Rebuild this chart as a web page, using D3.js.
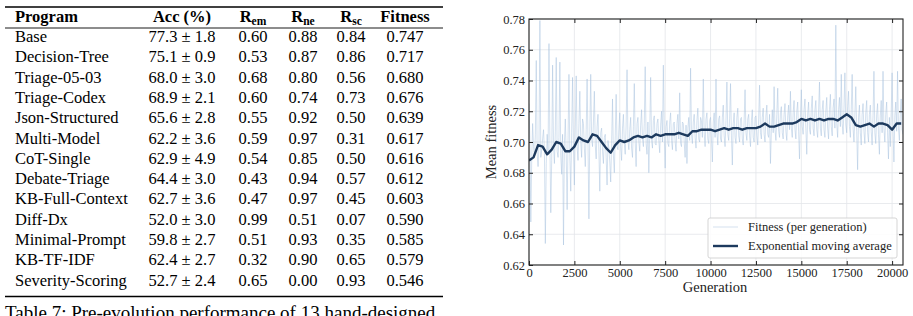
<!DOCTYPE html>
<html>
<head>
<meta charset="utf-8">
<script src="https://cdn.jsdelivr.net/npm/d3@7/dist/d3.min.js"></script>
<style>
  html, body { margin: 0; padding: 0; background: #fff; }
  svg { display: block; }
  text { font-family: "Liberation Serif", "Times New Roman", Times, serif; }
</style>
</head>
<body>
<svg id="fig" width="913" height="316" font-family="'Liberation Serif','Times New Roman',serif"></svg>
<script>
// ---------------- Table data ----------------
const programs = ["Base","Decision-Tree","Triage-05-03","Triage-Codex","Json-Structured","Multi-Model","CoT-Single","Debate-Triage","KB-Full-Context","Diff-Dx","Minimal-Prompt","KB-TF-IDF","Severity-Scoring"];
const accMean = [77.3, 75.1, 68.0, 68.9, 65.6, 62.2, 62.9, 64.4, 62.7, 52.0, 59.8, 62.4, 52.7];
const accStd  = [1.8, 0.9, 3.0, 2.1, 2.8, 3.6, 4.9, 3.0, 3.6, 3.0, 2.7, 2.7, 2.4];
const rEm = [0.60, 0.53, 0.68, 0.60, 0.55, 0.59, 0.54, 0.43, 0.47, 0.99, 0.51, 0.32, 0.65];
const rNe = [0.88, 0.87, 0.80, 0.74, 0.92, 0.97, 0.85, 0.94, 0.97, 0.51, 0.93, 0.90, 0.00];
const rSc = [0.84, 0.86, 0.56, 0.73, 0.50, 0.31, 0.50, 0.57, 0.45, 0.07, 0.35, 0.65, 0.93];
const fitnessScore = [0.747, 0.717, 0.680, 0.676, 0.639, 0.617, 0.616, 0.612, 0.603, 0.590, 0.585, 0.579, 0.546];
const caption = "Table 7: Pre-evolution performance of 13 hand-designed";

// ---------------- Chart data ----------------
const genStep = 50; // generation spacing of the per-generation samples below
const fitnessRaw = [
 0.725,0.701,0.648,0.689,0.712,0.697,0.690,0.705,0.753,0.693,0.684,0.699,0.779,0.690,0.695,0.702,0.708,0.694,0.634,0.686,
 0.705,0.693,0.764,0.700,0.654,0.688,0.750,0.698,0.686,0.707,0.755,0.694,0.690,0.703,0.752,0.691,0.679,0.705,0.633,0.699,
 0.715,0.692,0.656,0.701,0.744,0.690,0.668,0.706,0.742,0.695,0.672,0.709,0.743,0.697,0.688,0.712,0.733,0.700,0.690,0.715,
 0.712,0.696,0.684,0.708,0.741,0.699,0.650,0.707,0.744,0.702,0.697,0.713,0.733,0.698,0.689,0.710,0.718,0.694,0.668,0.706,
 0.709,0.694,0.686,0.703,0.705,0.690,0.672,0.701,0.696,0.687,0.674,0.699,0.728,0.691,0.680,0.704,0.731,0.697,0.695,0.708,
 0.719,0.697,0.688,0.709,0.718,0.699,0.692,0.711,0.747,0.701,0.695,0.708,0.716,0.696,0.690,0.710,0.738,0.700,0.684,0.712,
 0.716,0.700,0.694,0.711,0.721,0.702,0.697,0.712,0.749,0.699,0.692,0.713,0.680,0.706,0.742,0.701,0.696,0.714,0.717,0.699,
 0.698,0.712,0.715,0.701,0.693,0.711,0.720,0.700,0.750,0.704,0.683,0.710,0.714,0.699,0.697,0.713,0.719,0.701,0.695,0.712,
 0.713,0.700,0.694,0.712,0.718,0.702,0.732,0.699,0.697,0.713,0.712,0.700,0.690,0.711,0.686,0.709,0.716,0.701,0.748,0.705,
 0.699,0.713,0.718,0.703,0.696,0.714,0.722,0.702,0.700,0.716,0.714,0.703,0.741,0.706,0.697,0.715,0.719,0.702,0.699,0.714,
 0.716,0.702,0.687,0.713,0.719,0.703,0.741,0.706,0.698,0.715,0.717,0.702,0.700,0.716,0.724,0.704,0.697,0.714,0.739,0.705,
 0.701,0.715,0.738,0.704,0.685,0.712,0.719,0.703,0.699,0.716,0.722,0.704,0.700,0.715,0.716,0.702,0.698,0.714,0.734,0.706,
 0.701,0.715,0.718,0.704,0.697,0.714,0.721,0.703,0.700,0.716,0.717,0.704,0.698,0.715,0.737,0.706,0.702,0.716,0.722,0.705,
 0.700,0.717,0.724,0.705,0.703,0.718,0.686,0.707,0.721,0.706,0.736,0.708,0.701,0.718,0.735,0.707,0.703,0.719,0.723,0.706,
 0.702,0.718,0.725,0.707,0.701,0.717,0.724,0.708,0.733,0.709,0.703,0.719,0.727,0.708,0.702,0.720,0.726,0.707,0.689,0.716,
 0.734,0.710,0.705,0.721,0.728,0.709,0.692,0.718,0.726,0.708,0.705,0.722,0.730,0.709,0.704,0.721,0.727,0.708,0.703,0.720,
 0.739,0.709,0.704,0.721,0.727,0.708,0.703,0.720,0.729,0.709,0.702,0.721,0.731,0.710,0.704,0.722,0.728,0.709,0.776,0.712,
 0.703,0.721,0.729,0.710,0.744,0.712,0.705,0.722,0.745,0.711,0.706,0.723,0.733,0.710,0.703,0.721,0.744,0.709,0.700,0.718,
 0.736,0.707,0.682,0.716,0.724,0.706,0.698,0.718,0.725,0.707,0.699,0.719,0.727,0.706,0.700,0.718,0.724,0.707,0.698,0.717,
 0.746,0.706,0.699,0.718,0.725,0.705,0.692,0.717,0.727,0.706,0.746,0.709,0.700,0.718,0.726,0.706,0.689,0.716,0.697,0.719,
 0.745,0.708,0.687,0.717,0.726,0.707,0.746,0.709,0.701,0.718,0.728,0.708,0.705
];
const emaStep = 250;
const emaValues = [
 0.688,0.690,0.698,0.697,0.692,0.695,0.700,0.699,0.694,0.694,
 0.697,0.703,0.701,0.700,0.705,0.704,0.700,0.696,0.693,0.698,
 0.701,0.700,0.701,0.703,0.704,0.703,0.704,0.703,0.705,0.704,
 0.705,0.705,0.705,0.706,0.705,0.704,0.707,0.707,0.708,0.708,
 0.708,0.707,0.708,0.709,0.708,0.709,0.709,0.708,0.709,0.709,
 0.709,0.710,0.712,0.710,0.710,0.711,0.712,0.712,0.712,0.713,
 0.715,0.714,0.715,0.714,0.715,0.714,0.715,0.715,0.714,0.716,
 0.718,0.716,0.711,0.710,0.711,0.712,0.710,0.712,0.712,0.711,
 0.708,0.712,0.712
];
const xTicks = [0,2500,5000,7500,10000,12500,15000,17500,20000];
const yTicks = [0.62,0.64,0.66,0.68,0.70,0.72,0.74,0.76,0.78];
const legendLabels = ["Fitness (per generation)", "Exponential moving average"];
const xLabel = "Generation";
const yLabel = "Mean fitness";

// ---------------- Draw table ----------------
const svg = d3.select("#fig");
svg.append("rect").attr("width",913).attr("height",316).attr("fill","#fff");

const tbl = svg.append("g").attr("class","table");
const fs = 16.5;
const rowY = d3.scaleLinear().domain([0, programs.length - 1]).range([42, 285.6]);
const f2 = d3.format(".2f"), f1 = d3.format(".1f"), f3 = d3.format(".3f");
const colX = {prog: 15, acc: 182, em: 253, ne: 303, sc: 351, fit: 405};

// rules
tbl.append("line").attr("x1",5).attr("x2",443).attr("y1",7).attr("y2",7).attr("stroke","#000").attr("stroke-width",1.4);
tbl.append("line").attr("x1",5).attr("x2",443).attr("y1",28).attr("y2",28).attr("stroke","#000").attr("stroke-width",0.9);
tbl.append("line").attr("x1",5).attr("x2",443).attr("y1",296.5).attr("y2",296.5).attr("stroke","#000").attr("stroke-width",1.4);

// header
const hy = 21.5;
const hdr = tbl.append("g").attr("font-weight","bold").attr("font-size",fs).attr("fill","#000");
hdr.append("text").attr("x",colX.prog).attr("y",hy).text("Program");
hdr.append("text").attr("x",colX.acc).attr("y",hy).attr("text-anchor","middle").text("Acc (%)");
[["em",colX.em],["ne",colX.ne],["sc",colX.sc]].forEach(([sub,cx]) => {
  const t = hdr.append("text").attr("x",cx).attr("y",hy).attr("text-anchor","middle");
  t.append("tspan").text("R");
  t.append("tspan").attr("font-size",fs*0.7).attr("dy",3).text(sub);
});
hdr.append("text").attr("x",colX.fit).attr("y",hy).attr("text-anchor","middle").text("Fitness");

// rows
const rows = tbl.append("g").attr("font-size",fs).attr("fill","#000");
programs.forEach((p,i) => {
  const y = rowY(i);
  rows.append("text").attr("x",colX.prog).attr("y",y).text(p);
  rows.append("text").attr("x",colX.acc).attr("y",y).attr("text-anchor","middle")
      .text(f1(accMean[i]) + " ± " + f1(accStd[i]));
  rows.append("text").attr("x",colX.em).attr("y",y).attr("text-anchor","middle").text(f2(rEm[i]));
  rows.append("text").attr("x",colX.ne).attr("y",y).attr("text-anchor","middle").text(f2(rNe[i]));
  rows.append("text").attr("x",colX.sc).attr("y",y).attr("text-anchor","middle").text(f2(rSc[i]));
  rows.append("text").attr("x",colX.fit).attr("y",y).attr("text-anchor","middle").text(f3(fitnessScore[i]));
});
svg.append("text").attr("x",5).attr("y",318.5).attr("font-size",19).attr("fill","#000").text(caption);

// ---------------- Draw chart ----------------
const L = 529, R = 903, T = 19, B = 265;
const x = d3.scaleLinear().domain([0, 20600]).range([L, R]);
const y = d3.scaleLinear().domain([0.62, 0.78]).range([B, T]);
const ch = svg.append("g").attr("class","chart");

// grid
ch.append("g").selectAll("line").data(xTicks).join("line")
  .attr("x1",d=>x(d)).attr("x2",d=>x(d)).attr("y1",T).attr("y2",B)
  .attr("stroke","#e3e6ea").attr("stroke-width",0.8);
ch.append("g").selectAll("line").data(yTicks).join("line")
  .attr("x1",L).attr("x2",R).attr("y1",d=>y(d)).attr("y2",d=>y(d))
  .attr("stroke","#e3e6ea").attr("stroke-width",0.8);

const clip = svg.append("clipPath").attr("id","plotclip");
clip.append("rect").attr("x",L).attr("y",T).attr("width",R-L).attr("height",B-T);

const rawLine = d3.line().x((d,i)=>x(i*genStep)).y(d=>y(d));
ch.append("path").datum(fitnessRaw).attr("d",rawLine).attr("clip-path","url(#plotclip)")
  .attr("fill","none").attr("stroke","#a8c2df").attr("stroke-opacity",0.58).attr("stroke-width",0.85);

const emaLine = d3.line().x((d,i)=>x(i*emaStep)).y(d=>y(d));
ch.append("path").datum(emaValues).attr("d",emaLine).attr("clip-path","url(#plotclip)")
  .attr("fill","none").attr("stroke","#1d3a5e").attr("stroke-width",2.4).attr("stroke-linejoin","round");

// axes
const axFont = 12.5;
const styleAxis = g => {
  g.select(".domain").remove();
  g.selectAll(".tick line").attr("stroke","#222").attr("stroke-width",1);
  g.selectAll(".tick text").attr("fill","#222").attr("font-size",axFont)
    .attr("font-family","'Liberation Serif','Times New Roman',serif");
};
ch.append("g").attr("transform",`translate(0,${B})`)
  .call(d3.axisBottom(x).tickValues(xTicks).tickFormat(d3.format("d")).tickSizeInner(-4).tickSizeOuter(0).tickPadding(3))
  .call(styleAxis);
ch.append("g").attr("transform",`translate(0,${T})`)
  .call(d3.axisTop(x).tickValues(xTicks.filter(d=>d>0)).tickFormat("").tickSizeInner(-4).tickSizeOuter(0))
  .call(styleAxis);
ch.append("g").attr("transform",`translate(${L},0)`)
  .call(d3.axisLeft(y).tickValues(yTicks).tickFormat(d3.format(".2f")).tickSizeInner(-4).tickSizeOuter(0).tickPadding(4))
  .call(styleAxis);
ch.append("g").attr("transform",`translate(${R},0)`)
  .call(d3.axisRight(y).tickValues(yTicks.slice(1,-1)).tickFormat("").tickSizeInner(-4).tickSizeOuter(0))
  .call(styleAxis);

// frame
ch.append("rect").attr("x",L).attr("y",T).attr("width",R-L).attr("height",B-T)
  .attr("fill","none").attr("stroke","#222").attr("stroke-width",1.1);

// labels
ch.append("text").attr("x",(L+R)/2 - 1).attr("y",292).attr("text-anchor","middle")
  .attr("font-size",14.5).attr("fill","#222").text(xLabel);
ch.append("text").attr("transform",`translate(496,${(T+B)/2}) rotate(-90)`).attr("text-anchor","middle")
  .attr("font-size",14.5).attr("fill","#222").text(yLabel);

// legend
const lg = ch.append("g").attr("transform","translate(708,218)");
lg.append("rect").attr("width",189).attr("height",40).attr("rx",2)
  .attr("fill","#fff").attr("fill-opacity",0.85).attr("stroke","#d0d0d0").attr("stroke-width",0.9);
const legendStyles = [
  {stroke:"#a8c2df", op:0.55, w:0.9},
  {stroke:"#1d3a5e", op:1, w:2.4}
];
legendLabels.forEach((lab,i) => {
  const yy = 9 + i*19;
  lg.append("line").attr("x1",5).attr("x2",30).attr("y1",yy).attr("y2",yy)
    .attr("stroke",legendStyles[i].stroke).attr("stroke-opacity",legendStyles[i].op).attr("stroke-width",legendStyles[i].w);
  lg.append("text").attr("x",40).attr("y",yy+4.3).attr("font-size",12.5).attr("fill","#222").text(lab);
});
</script>
</body>
</html>
